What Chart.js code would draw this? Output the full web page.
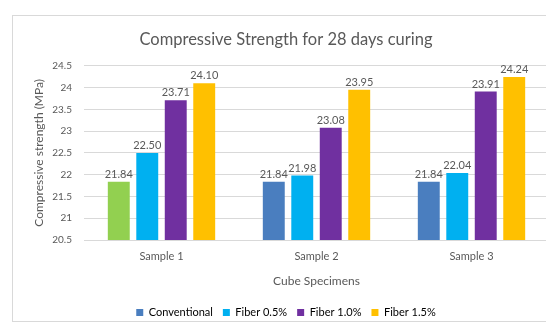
<!DOCTYPE html>
<html>
<head>
<meta charset="utf-8">
<script src="https://cdn.jsdelivr.net/npm/chart.js@4.4.1/dist/chart.umd.min.js"></script>
<style>
  html, body { margin: 0; padding: 0; background: #fff; overflow: hidden; }
  #frame {
    position: absolute; left: 12px; top: 15px;
    width: 560px; height: 307px;
    border: 1px solid #d9d9d9; box-sizing: border-box; background: #fff;
  }
</style>
</head>
<body>
<div id="frame"><canvas id="chart"></canvas></div>
<script>
// compressive strength after 28 days, per sample
const samples = ["Sample 1", "Sample 2", "Sample 3"];
const seriesNames = ["Conventional", "Fiber 0.5%", "Fiber 1.0%", "Fiber 1.5%"];
const conventional = [21.84, 21.84, 21.84];
const fiber05 = [22.50, 21.98, 22.04];
const fiber10 = [23.71, 23.08, 23.91];
const fiber15 = [24.10, 23.95, 24.24];
const yTicks = [20.5, 21, 21.5, 22, 22.5, 23, 23.5, 24, 24.5];

const grey = "#595959";
const font = "Lato";

// first conventional bar is filled green, the rest keep the series colour
const colors = [
    ["#92D050", "#4A7EBF", "#4A7EBF"],
    "#00B0F0",
    "#7030A0",
    "#FFC000",
];
const legendColors = ["#4A7EBF", "#00B0F0", "#7030A0", "#FFC000"];

// value labels above each bar
const barValues = {
    id: "barValues",
    afterDatasetsDraw(chart) {
        const ctx = chart.ctx;
        ctx.save();
        ctx.font = "11px " + font;
        ctx.fillStyle = grey;
        ctx.textAlign = "center";
        ctx.textBaseline = "bottom";
        chart.data.datasets.forEach((ds, i) => {
            chart.getDatasetMeta(i).data.forEach((bar, j) => {
                ctx.fillText(ds.data[j].toFixed(2), bar.x, bar.y - 2);
            });
        });
        ctx.restore();
    },
};

new Chart(document.getElementById("chart"), {
    type: "bar",
    plugins: [barValues],
    data: {
        labels: samples,
        datasets: [conventional, fiber05, fiber10, fiber15].map((d, i) => ({
            label: seriesNames[i],
            data: d,
            backgroundColor: colors[i],
            categoryPercentage: 0.735,
            barPercentage: 0.77,
        })),
    },
    options: {
        responsive: true,
        maintainAspectRatio: false,
        animation: false,
        layout: { padding: { left: 10, right: 22, top: 0, bottom: -7 } },
        plugins: {
            tooltip: { enabled: false },
            title: {
                display: true,
                text: "Compressive Strength for 28 days curing",
                color: grey,
                font: { family: font, size: 16.5, weight: "normal" },
                padding: { top: 14, bottom: 16 },
            },
            legend: {
                position: "bottom",
                labels: {
                    color: grey,
                    font: { family: font, size: 11 },
                    boxWidth: 7,
                    boxHeight: 7,
                    padding: 10,
                    generateLabels: () => seriesNames.map((name, i) => ({
                        text: name,
                        fillStyle: legendColors[i],
                        strokeStyle: legendColors[i],
                        lineWidth: 0,
                        datasetIndex: i,
                    })),
                },
            },
        },
        scales: {
            x: {
                afterFit: (scale) => { scale.height = 57; },
                grid: { display: false },
                border: { color: "#d9d9d9" },
                ticks: { color: grey, font: { family: font, size: 11 }, padding: 2 },
                title: {
                    display: true,
                    text: "Cube Specimens",
                    color: grey,
                    font: { family: font, size: 12 },
                    padding: { top: 8, bottom: 9 },
                },
            },
            y: {
                min: 20.5,
                max: 24.5,
                afterBuildTicks: (scale) => { scale.ticks = yTicks.map(v => ({ value: v })); },
                afterFit: (scale) => { scale.width = 61; },
                grid: { color: "#d9d9d9", drawTicks: false },
                border: { display: false },
                ticks: {
                    color: grey,
                    font: { family: font, size: 10 },
                    padding: 12,
                    callback: (v) => String(v),
                },
                title: {
                    display: true,
                    text: "Compressive strength (MPa)",
                    color: grey,
                    font: { family: font, size: 12 },
                    padding: { top: 9, bottom: 0 },
                },
            },
        },
    },
});
</script>
</body>
</html>
